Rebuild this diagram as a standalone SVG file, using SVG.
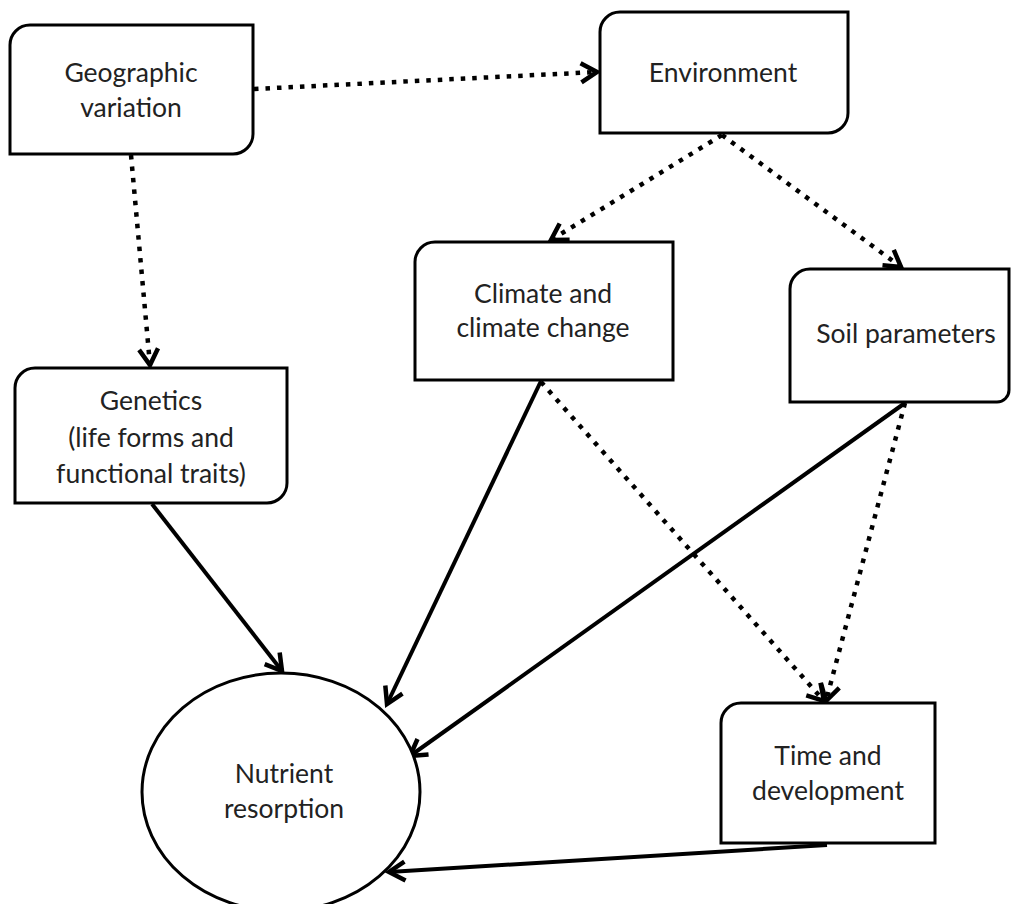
<svg xmlns="http://www.w3.org/2000/svg" width="1011" height="904" viewBox="0 0 1011 904">
<style>
.box{fill:#fff;stroke:#000;stroke-width:3}
.lbl{font-family:Lato,"Open Sans","Liberation Sans",sans-serif;font-size:26.5px;fill:#222;text-anchor:middle}
.dot{fill:none;stroke:#000;stroke-width:4.5;stroke-dasharray:4.5 7}
.sol{fill:none;stroke:#000;stroke-width:4}
</style>
<defs>
<marker id="ah" markerUnits="userSpaceOnUse" markerWidth="40" markerHeight="40" viewBox="-20 -20 40 40" refX="0" refY="0" orient="auto" overflow="visible">
<path d="M-16,-9.5 L0,0 L-16,9.5" fill="none" stroke="#000" stroke-width="4.5" stroke-linejoin="miter"/>
</marker>
</defs>
<rect width="1011" height="904" fill="#fff"/>
<g id="connectors">
<line class="dot" x1="254" y1="89" x2="597" y2="72" marker-end="url(#ah)"/>
<line class="dot" x1="131" y1="155" x2="150" y2="365" marker-end="url(#ah)"/>
<line class="dot" x1="722" y1="135" x2="551" y2="240" marker-end="url(#ah)"/>
<line class="dot" x1="722" y1="135" x2="901" y2="267" marker-end="url(#ah)"/>
<line class="dot" x1="541" y1="382" x2="824" y2="701" marker-end="url(#ah)"/>
<line class="dot" x1="905" y1="403" x2="826" y2="701" marker-end="url(#ah)"/>
<line class="sol" x1="152" y1="504" x2="282" y2="671" marker-end="url(#ah)"/>
<line class="sol" x1="541" y1="381" x2="387" y2="704" marker-end="url(#ah)"/>
<line class="sol" x1="905" y1="403" x2="410" y2="756" marker-end="url(#ah)"/>
<line class="sol" x1="827" y1="845" x2="389" y2="872" marker-end="url(#ah)"/>
</g>
<g id="geographic">
<path class="box" d="M10,45 A20,20 0 0 1 30,25 H253 V134 A20,20 0 0 1 233,154 H10 Z"/>
<text class="lbl" x="131" y="82">Geographic</text>
<text class="lbl" x="131" y="117">variation</text>
</g>
<g id="environment">
<path class="box" d="M600,32 A20,20 0 0 1 620,12 H848 V113 A20,20 0 0 1 828,133 H600 Z"/>
<text class="lbl" x="723" y="82">Environment</text>
</g>
<g id="climate">
<path class="box" d="M415,262 A20,20 0 0 1 435,242 H673 V380 H415 Z"/>
<text class="lbl" x="543" y="303">Climate and</text>
<text class="lbl" x="543" y="337">climate change</text>
</g>
<g id="soil">
<path class="box" d="M790,289 A20,20 0 0 1 810,269 H1009 V390 A12,12 0 0 1 997,402 H790 Z"/>
<text class="lbl" x="906" y="343">Soil parameters</text>
</g>
<g id="genetics">
<path class="box" d="M15,388 A20,20 0 0 1 35,368 H287 V483 A20,20 0 0 1 267,503 H15 Z"/>
<text class="lbl" x="151" y="410">Genetics</text>
<text class="lbl" x="151" y="447">(life forms and</text>
<text class="lbl" x="151" y="483">functional traits)</text>
</g>
<g id="time">
<path class="box" d="M721,723 A20,20 0 0 1 741,703 H935 V843 H721 Z"/>
<text class="lbl" x="828" y="765">Time and</text>
<text class="lbl" x="828" y="800">development</text>
</g>
<g id="nutrient">
<ellipse class="box" cx="281" cy="792" rx="139" ry="119"/>
<text class="lbl" x="284" y="783">Nutrient</text>
<text class="lbl" x="284" y="818">resorption</text>
</g>
</svg>
